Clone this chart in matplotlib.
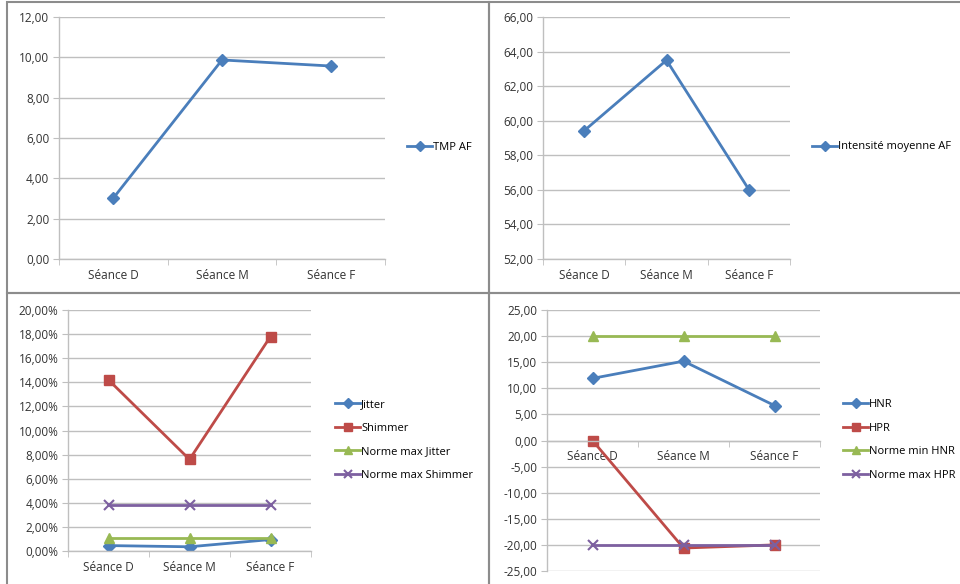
import matplotlib
matplotlib.use('Agg')
import matplotlib.pyplot as plt
from matplotlib.patches import Rectangle
from matplotlib.ticker import FuncFormatter, FixedLocator

seances = ['Séance D', 'Séance M', 'Séance F']

tmp_af = [3.02, 9.87, 9.57]
intensite_af = [59.42, 63.50, 56.02]

jitter = [0.0045, 0.0035, 0.0095]
shimmer = [0.1420, 0.0760, 0.1780]
norme_max_jitter = [0.0104, 0.0104, 0.0104]
norme_max_shimmer = [0.0381, 0.0381, 0.0381]

hnr = [11.9, 15.2, 6.7]
hpr = [0.0, -20.6, -20.0]
norme_min_hnr = [20.0, 20.0, 20.0]
norme_max_hpr = [-20.0, -20.0, -20.0]

BLUE = '#4A7EBB'
RED = '#BE4B48'
GREEN = '#98B954'
PURPLE = '#7D60A0'
GRID = '#BFBFBF'
TXT = '#333333'
FS = 8.5

plt.rcParams['font.family'] = ['Open Sans', 'DejaVu Sans']
W, H = 960, 584
fig = plt.figure(figsize=(W / 100, H / 100), dpi=100)


def px_axes(x0, y0, x1, y1):
    return fig.add_axes([x0 / W, 1 - y1 / H, (x1 - x0) / W, (y1 - y0) / H])


def style(ax, ylim, step, fmt):
    x = [1, 2, 3]
    ax.set_xlim(0.5, 3.5)
    ax.set_ylim(*ylim)
    ax.xaxis.set_major_locator(FixedLocator(x))
    ax.set_xticklabels(seances)
    ax.xaxis.set_minor_locator(FixedLocator([0.5, 1.5, 2.5, 3.5]))
    ax.tick_params(axis='x', which='major', length=0, pad=7, labelsize=FS, labelcolor=TXT)
    ax.tick_params(axis='x', which='minor', length=4, color=GRID, direction='out')
    ax.tick_params(axis='y', length=4, color=GRID, labelsize=FS, labelcolor=TXT, pad=3)
    n = int(round((ylim[1] - ylim[0]) / step))
    ax.yaxis.set_major_locator(FixedLocator([ylim[0] + i * step for i in range(n + 1)]))
    ax.yaxis.set_major_formatter(FuncFormatter(fmt))
    ax.grid(axis='y', color=GRID, lw=1)
    ax.set_axisbelow(True)
    for s in ['top', 'right']:
        ax.spines[s].set_visible(False)
    for s in ['left', 'bottom']:
        ax.spines[s].set_color(GRID)
        ax.spines[s].set_linewidth(1)
    return x


def fr(v):
    return ('%.2f' % v).replace('.', ',')


def pct(v, pos=None):
    return ('%.2f%%' % (v * 100)).replace('.', ',')


def leg(ax, x0, yc, spacing=0.5):
    ax.legend(loc='center left', bbox_to_anchor=(x0 / W, 1 - yc / H),
              bbox_transform=fig.transFigure, frameon=False, fontsize=8,
              handlelength=2.2, handletextpad=0.1, borderaxespad=0,
              labelspacing=spacing, markerscale=0.8)


# panel frames
for (x0, y0, x1, y1) in [(7, 2, 489, 293), (489, 2, 962, 293),
                         (7, 293, 489, 586), (489, 293, 962, 586)]:
    fig.patches.append(Rectangle((x0 / W, 1 - y1 / H), (x1 - x0) / W, (y1 - y0) / H,
                                 transform=fig.transFigure, fill=False,
                                 edgecolor='#8C8C8C', lw=1.5))

# top-left
ax1 = px_axes(59, 17, 385, 259)
x = style(ax1, (0, 12), 2, lambda v, p: fr(v))
ax1.plot(x, tmp_af, color=BLUE, lw=2, marker='D', ms=6, label='TMP AF')
leg(ax1, 403, 147)

# top-right
ax2 = px_axes(543, 17, 790, 259)
x = style(ax2, (52, 66), 2, lambda v, p: fr(v))
ax2.plot(x, intensite_af, color=BLUE, lw=2, marker='D', ms=6, label='Intensité moyenne AF')
leg(ax2, 808, 147)

# bottom-left
ax3 = px_axes(68, 310, 311, 551)
x = style(ax3, (0, 0.20), 0.02, pct)
ax3.plot(x, jitter, color=BLUE, lw=2, marker='D', ms=6, label='Jitter')
ax3.plot(x, shimmer, color=RED, lw=2, marker='s', ms=7, label='Shimmer')
ax3.plot(x, norme_max_jitter, color=GREEN, lw=2, marker='^', ms=7, label='Norme max Jitter')
ax3.plot(x, norme_max_shimmer, color=PURPLE, lw=2, marker='x', ms=7, mew=1.5,
         label='Norme max Shimmer')
leg(ax3, 331, 440, 1.15)

# bottom-right
ax4 = px_axes(547, 310, 820, 571)
x = style(ax4, (-25, 25), 5, lambda v, p: fr(v))
ax4.spines['bottom'].set_position(('data', 0))
ax4.plot(x, hnr, color=BLUE, lw=2, marker='D', ms=6, label='HNR')
ax4.plot(x, hpr, color=RED, lw=2, marker='s', ms=7, label='HPR')
ax4.plot(x, norme_min_hnr, color=GREEN, lw=2, marker='^', ms=7, label='Norme min HNR')
ax4.plot(x, norme_max_hpr, color=PURPLE, lw=2, marker='x', ms=7, mew=1.5,
         label='Norme max HPR')
leg(ax4, 839, 440, 1.15)

fig.savefig('out.png', dpi=100)
